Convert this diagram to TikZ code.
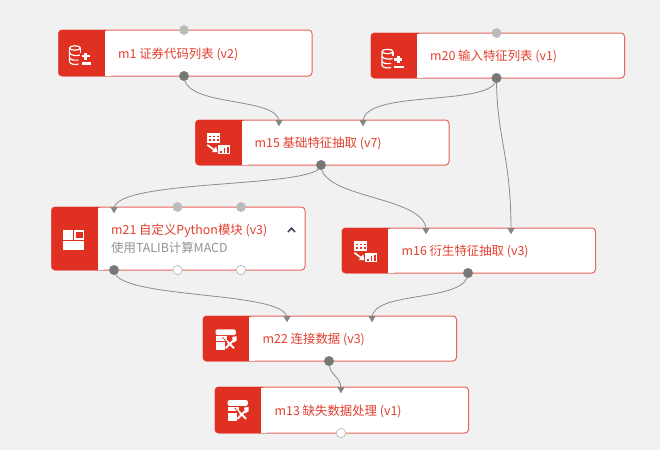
\documentclass[tikz,border=0pt]{standalone}
\usepackage{fontspec}
\setmainfont{Noto Sans CJK SC}
\usetikzlibrary{shapes.geometric,arrows.meta}
\definecolor{bg}{HTML}{F1F1F1}
\definecolor{modred}{HTML}{E03022}
\definecolor{edge}{HTML}{E8645C}
\definecolor{txtred}{HTML}{E2402F}
\definecolor{portdark}{HTML}{777777}
\definecolor{portlight}{HTML}{BBBBBB}
\definecolor{wirec}{HTML}{8C8C8C}
\definecolor{chevc}{HTML}{3A3F50}
\tikzset{
  x=1pt,y=-1pt,
  modbox/.style={draw=edge,line width=1pt,fill=white,rounded corners=3.5pt},
  modside/.style={fill=modred,rounded corners=3.5pt},
  title/.style={anchor=west,inner sep=0,text=txtred,font=\fontsize{12.4}{14}\selectfont},
  subtitle/.style={anchor=west,inner sep=0,text=gray!85,font=\fontsize{12.4}{14}\selectfont},
  outport/.style={circle,fill=portdark,draw=portdark!85,line width=.4pt,minimum size=9.3pt,inner sep=0},
  inport/.style={circle,fill=portlight,draw=portlight,line width=.4pt,minimum size=9.3pt,inner sep=0},
  freeport/.style={circle,fill=white,draw=portlight,line width=.7pt,minimum size=9.3pt,inner sep=0},
  intri/.style={regular polygon,regular polygon sides=3,shape border rotate=180,fill=portdark!90,minimum size=8pt,inner sep=0},
  wire/.style={draw=wirec,line width=.8pt},
  icn/.style={draw=white,line width=1.2pt,line join=round},
  icf/.style={fill=white},
}
% #1 left, #2 top, #3 bottom
\newcommand{\modshape}[3]{%
  \path[modbox] (#1,#2) rectangle ++(253.5,#3-#2);
  \path[modside] (#1,#2) rectangle ++(50,#3-#2);
  \fill[modred] (#1+40,#2) rectangle (#1+46,#3);
  \fill[white] (#1+46,#2+.5) rectangle (#1+52,#3-.5);
}
\newcommand{\dbicon}[2]{\begin{scope}[shift={(#1,#2)}]
  \draw[icn] (-1,-7.5) arc[start angle=0,end angle=180,x radius=5.5,y radius=2.2];
  \draw[icn] (-12,-7.5) arc[start angle=180,end angle=360,x radius=5.5,y radius=2.2];
  \draw[icn] (-12,-7.5) -- (-12,6) .. controls (-12,9) and (-6,9.5) .. (-3,8.5);
  \draw[icn] (-12,-2.5) .. controls (-10,.5) and (-4,.5) .. (-1.5,-.5);
  \draw[icn] (-12,2.5) .. controls (-10,5) and (-6,5) .. (-3,4.6);
  \draw[icn] (-1,-7.5) -- (-1,-3);
  \fill[icf] (2.8,-3) rectangle (5.6,4.2);
  \fill[icf] (.4,-.6) rectangle (8,1.8);
  \fill[icf] (.4,6.6) rectangle (9.5,9);
\end{scope}}
\newcommand{\extracticon}[2]{\begin{scope}[shift={(#1,#2)}]
  \fill[icf] (-11,-10.5) rectangle (1.5,-1);
  \foreach \xx in {-9,-5.2,-1.4}{\foreach \yy in {-8.2,-4.8}{\fill[modred] (\xx,\yy) rectangle +(1.7,1.7);}}
  \draw[icn,line width=1.6pt] (-11,1) -- (-3,7);
  \fill[icf] (-6.5,8.4) -- (-.8,8.4) -- (-2.2,2.6) -- cycle;
  \fill[icf] (-.5,1.5) rectangle (11.5,10.5);
  \fill[modred] (1.8,7.2) rectangle +(1.6,1.6);
  \fill[modred] (5.2,4.2) rectangle +(1.6,4.6);
  \fill[modred] (8.6,3) rectangle +(1.6,5.8);
\end{scope}}
\newcommand{\layouticon}[2]{\begin{scope}[shift={(#1,#2)}]
  \fill[icf] (-10.5,-10) rectangle (-.7,-.5);
  \fill[icf] (.2,-10) rectangle (10.5,-.5);
  \fill[modred] (2,-8.3) rectangle (8.8,-2.2);
  \fill[icf] (-10.5,.6) rectangle (10.5,10);
\end{scope}}
\newcommand{\toolicon}[2]{\begin{scope}[shift={(#1,#2)}]
  \fill[icf,rounded corners=1.5pt] (-10.5,-10.3) rectangle (9.8,-4.5);
  \fill[icf] (-10.5,-3.4) rectangle (1,1);
  \fill[icf] (-10.5,2.2) rectangle (-1,10.3);
  \draw[white,line width=2pt] (-1.5,-1) -- (8,8.5);
  \draw[white,line width=2pt] (-.5,8.5) -- (8,0);
  \fill[icf] (6,-2.7) -- (10.5,-3.5) -- (10.5,1) -- (7.5,3) -- cycle;
  \draw[modred,line width=.7pt] (-3.5,-2.5) -- (1,2.5);
\end{scope}}
\begin{document}
\begin{tikzpicture}
\useasboundingbox[fill=bg] (0,0) rectangle (660,450);

% modules
\modshape{58.5}{30}{76}
\modshape{371}{33}{78}
\modshape{195.5}{120}{165}
\modshape{51.5}{207}{270}
\modshape{342}{228}{273}
\modshape{203}{316}{361}
\modshape{215}{387}{433}

\dbicon{81.5}{55.5}
\dbicon{394}{59}
\extracticon{218.3}{143.8}
\extracticon{365.3}{251.7}
\layouticon{73.7}{240.3}
\toolicon{226}{339.7}
\toolicon{238}{410.3}

\node[title] (t1) at (118,54) {m1 证券代码列表 (v2)};
\node[title] (t20) at (430,56.5) {m20 输入特征列表 (v1)};
\node[title] (t15) at (254.5,143.5) {m15 基础特征抽取 (v7)};
\node[title] (t21) at (111,230.5) {m21 自定义Python模块 (v3)};
\node[subtitle] (s21) at (111,248) {使用TALIB计算MACD};
\node[title] (t16) at (401.5,251.5) {m16 衍生特征抽取 (v3)};
\node[title] (t22) at (262.5,339.5) {m22 连接数据 (v3)};
\node[title] (t13) at (274.5,411) {m13 缺失数据处理 (v1)};

% collapse chevron
\node[inner sep=0,minimum size=8pt] (chev) at (291.5,230) {};
\draw[draw=chevc,line width=1.5pt] ([shift={(-3.6,2)}]chev.center) -- ([shift={(0,-1.8)}]chev.center) -- ([shift={(3.6,2)}]chev.center);

% ports
\node[inport] (m1in) at (184,30) {};
\node[outport] (m1out) at (184,76) {};
\node[inport] (m20in) at (496.5,33) {};
\node[outport] (m20out) at (496.5,78) {};
\node[intri] (m15a) at (279,122) {};
\node[intri] (m15b) at (363,122) {};
\node[outport] (m15out) at (321,165) {};
\node[intri] (m21a) at (114,209) {};
\node[inport] (m21b) at (177.5,207) {};
\node[inport] (m21c) at (241,207) {};
\node[outport] (m21o) at (114,270) {};
\node[freeport] (m21p) at (177.5,270) {};
\node[freeport] (m21q) at (241,270) {};
\node[intri] (m16a) at (426,230) {};
\node[intri] (m16b) at (511,230) {};
\node[outport] (m16out) at (468,273) {};
\node[intri] (m22a) at (287,318) {};
\node[intri] (m22b) at (372,318) {};
\node[outport] (m22out) at (329,361) {};
\node[intri] (m13a) at (341,389) {};
\node[freeport] (m13o) at (341,433) {};

% connectors
\draw[wire] (m1out.center) .. controls +(0,32) and +(0,-26) .. (m15a.center);
\draw[wire] (m20out.center) .. controls +(0,30) and +(0,-34) .. (m15b.center);
\draw[wire] (m20out.center) .. controls +(0,60) and +(0,-75) .. (m16b.center);
\draw[wire] (m15out.center) .. controls +(0,24) and +(0,-31) .. (m21a.center);
\draw[wire] (m15out.center) .. controls +(0,34) and +(0,-34) .. (m16a.center);
\draw[wire] (m21o.center) .. controls +(0,30) and +(0,-28) .. (m22a.center);
\draw[wire] (m16out.center) .. controls +(0,30) and +(0,-28) .. (m22b.center);
\draw[wire] (m22out.center) .. controls +(0,16) and +(0,-14) .. (m13a.center);

% redraw port heads above wires
\foreach \p in {m1out,m20out,m15out,m21o,m16out,m22out}{\node[outport] at (\p.center) {};}
\foreach \p in {m15a,m15b,m21a,m16a,m16b,m22a,m22b,m13a}{\node[intri] at (\p.center) {};}
\end{tikzpicture}
\end{document}
